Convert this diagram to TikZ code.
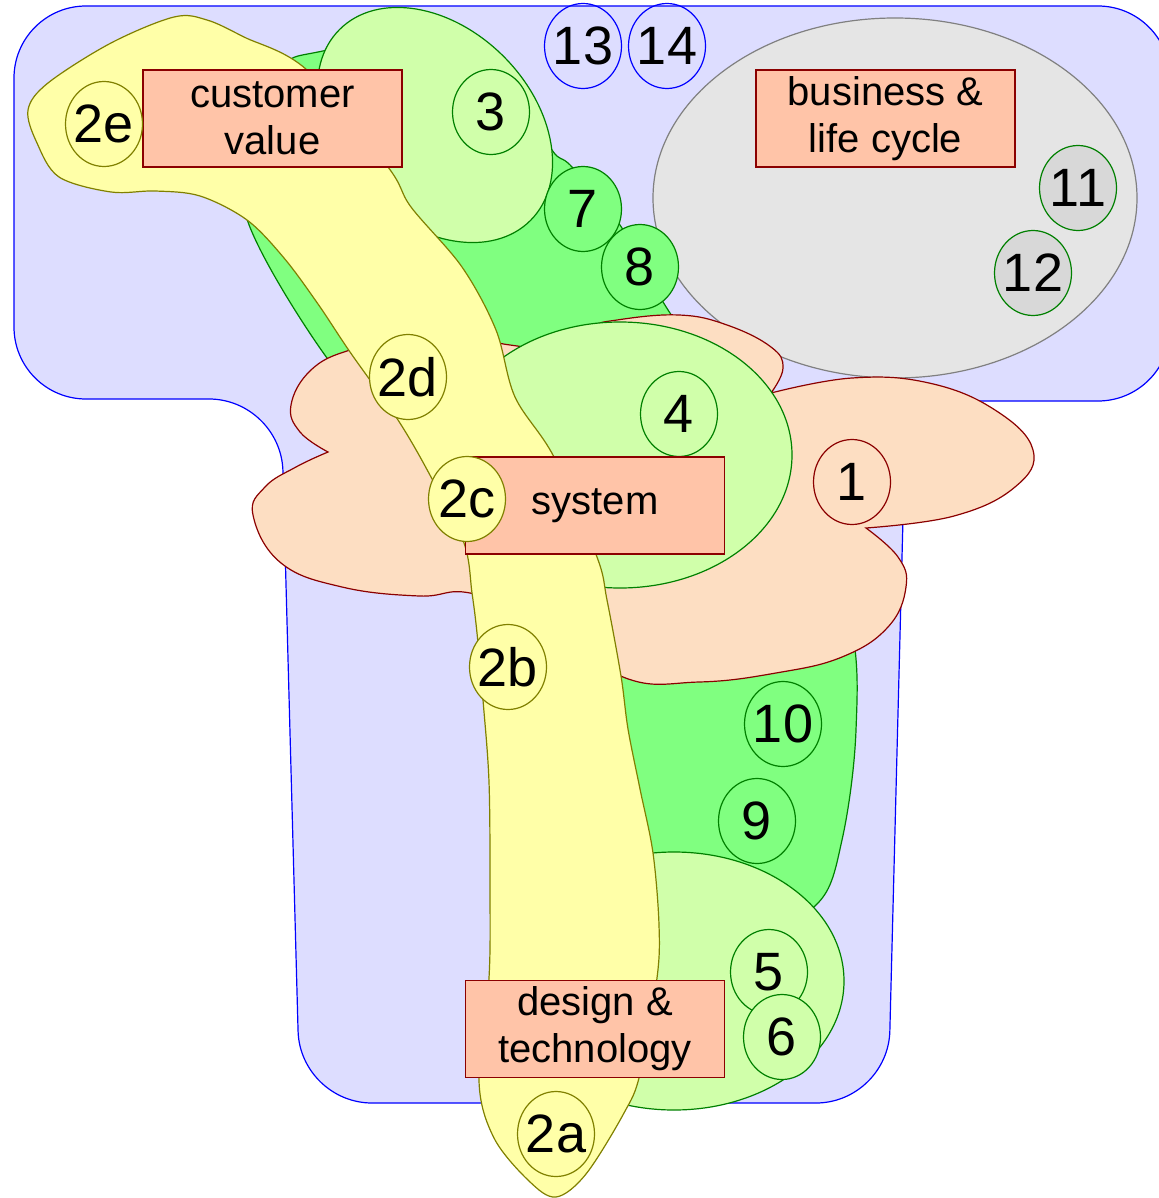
\documentclass[tikz,border=0pt]{standalone}
\usepackage{fontspec}
\setmainfont{Liberation Sans}
\usetikzlibrary{shapes.geometric}

\definecolor{tbg}{RGB}{221,221,255}
\definecolor{greyfill}{RGB}{229,229,229}
\definecolor{greydot}{RGB}{216,216,216}
\definecolor{greenfill}{RGB}{128,255,128}
\definecolor{palefill}{RGB}{208,255,170}
\definecolor{cloudfill}{RGB}{253,222,194}
\definecolor{cloudedge}{RGB}{139,0,0}
\definecolor{boxfill}{RGB}{255,196,168}
\definecolor{bandfill}{RGB}{255,255,168}
\definecolor{bandedge}{RGB}{128,128,0}
\definecolor{zonegreen}{RGB}{0,128,0}

% number text takes no room, so every ring keeps the same size
\newcommand{\nr}[1]{\makebox[0pt]{#1}}

\tikzset{
  num/.style={ellipse, draw, inner sep=0pt, minimum width=38.5pt,
    minimum height=42.5pt, font=\fontsize{27}{30}\selectfont},
  numyellow/.style={num, draw=bandedge, fill=bandfill},
  numgreen/.style={num, draw=zonegreen, fill=greenfill},
  numpale/.style={num, draw=zonegreen, fill=palefill},
  numgrey/.style={num, draw=zonegreen, fill=greydot},
  numblue/.style={num, draw=blue},
  numpeach/.style={num, draw=cloudedge, fill=cloudfill},
  areabox/.style={rectangle, draw=cloudedge, fill=boxfill, inner sep=0pt,
    minimum width=129.5pt, minimum height=48.5pt, align=center,
    font=\fontsize{20}{23.5}\selectfont},
}

\begin{document}
\begin{tikzpicture}[x=0.5pt, y=-0.5pt, line width=0.6pt]
\useasboundingbox (0,0) rectangle (1159,1198);

% T shaped background
\filldraw[fill=tbg, draw=blue, rounded corners=36pt]
(14,6) -- (1170,6) -- (1170,401) -- (906,401) -- (888,1103)
-- (300,1103) -- (281,399) -- (14,399) -- cycle;

% business & life cycle
\filldraw[fill=greyfill, draw=gray] (895,198) ellipse [x radius=242, y radius=180];

\path
(1078,188) node[numgrey] (n11) {\nr{11}}
(1033,273) node[numgrey] (n12) {\nr{12}}
(583,46) node[numblue] (n13) {\nr{13}}
(667,46) node[numblue] (n14) {\nr{14}};

% big green zone behind everything
\filldraw[fill=greenfill, draw=zonegreen] plot[smooth cycle, tension=0.6] coordinates {
(318,52) (430,40) (520,90) (552,150) (572,167) (620,225) (670,313)
(730,390) (800,480) (850,620) (856,730) (842,840) (817,904)
(750,930) (640,880) (585,780) (560,640) (520,500) (385,410)
(327,358) (248,222) (250,140) (280,70)};

\filldraw[fill=palefill, draw=zonegreen, rotate around={-45:(435,125)}]
(435,125) ellipse [x radius=135, y radius=97];
\filldraw[fill=palefill, draw=zonegreen] (674,981) ellipse [x radius=170, y radius=129];

\path
(491,112) node[numpale] (n3) {\nr{3}}
(583,209) node[numgreen] (n7) {\nr{7}}
(640,267) node[numgreen] (n8) {\nr{8}}
(783,724) node[numgreen] (n10) {\nr{10}}
(757,821) node[numgreen] (n9) {\nr{9}}
(769,972) node[numpale] (n5) {\nr{5}}
(782,1037) node[numpale] (n6) {\nr{6}};

% system cloud, five lobes
\filldraw[fill=cloudfill, draw=cloudedge]
plot[smooth, tension=0.7] coordinates {(328,452) (300,432) (291,405) (311,370)
  (350,350) (410,338) (475,340) (510,345) (560,352)}
-- plot[smooth, tension=0.7] coordinates {(560,352) (590,328) (617,320) (679,315)
  (727,325) (771,347) (783,368) (771,393)}
-- plot[smooth, tension=0.7] coordinates {(771,393) (852,378) (929,383) (995,410)
  (1033,450) (1015,487) (954,516) (866,528)}
-- plot[smooth, tension=0.7] coordinates {(866,528) (898,557) (906,587) (888,627)
  (842,657) (776,673) (699,682) (623,677) (545,620)}
-- plot[smooth, tension=0.7] coordinates {(545,620) (470,593) (419,596) (342,587)
  (281,563) (253,515) (265,487) (296,467) (328,452)}
-- cycle;

\filldraw[fill=palefill, draw=zonegreen] (620,455) ellipse [x radius=172, y radius=133];

\path
(679,414) node[numpale] (n4) {\nr{4}}
(852,482) node[numpeach] (n1) {\nr{1}};

% customer value band
\filldraw[fill=bandfill, draw=bandedge] plot[smooth cycle, tension=0.55] coordinates {
(556,1197) (529,1181) (494,1138) (479,1081) (489,978) (490,889) (489,782)
(483,700) (477,633) (472,593) (464,543) (431,477) (398,420) (350,352)
(318,304) (284,258) (247,220) (200,196) (155,191) (111,192) (59,177)
(37,143) (28,110) (48,83) (111,43) (174,17) (207,20) (244,37) (307,70)
(388,167) (411,207) (462,267) (496,330) (515,397) (554,457) (597,557)
(607,600) (621,676) (628,729) (640,789) (653,853) (659,925) (657,978)
(640,1074) (624,1113) (586,1174)};

\path
(272.5,118.5) node[areabox] (customer) {customer\\value}
(885.5,118.5) node[areabox] (business) {business \&\\life cycle}
(595,505.5) node[areabox] (system) {system}
(595,1029) node[areabox] (design) {design \&\\technology};

\path
(104,124) node[numyellow] (n2e) {\nr{2e}}
(408,377) node[numyellow] (n2d) {\nr{2d}}
(467,499) node[numyellow] (n2c) {\nr{2c}}
(508,667) node[numyellow] (n2b) {\nr{2b}}
(556,1134) node[numyellow] (n2a) {\nr{2a}};

\end{tikzpicture}
\end{document}
